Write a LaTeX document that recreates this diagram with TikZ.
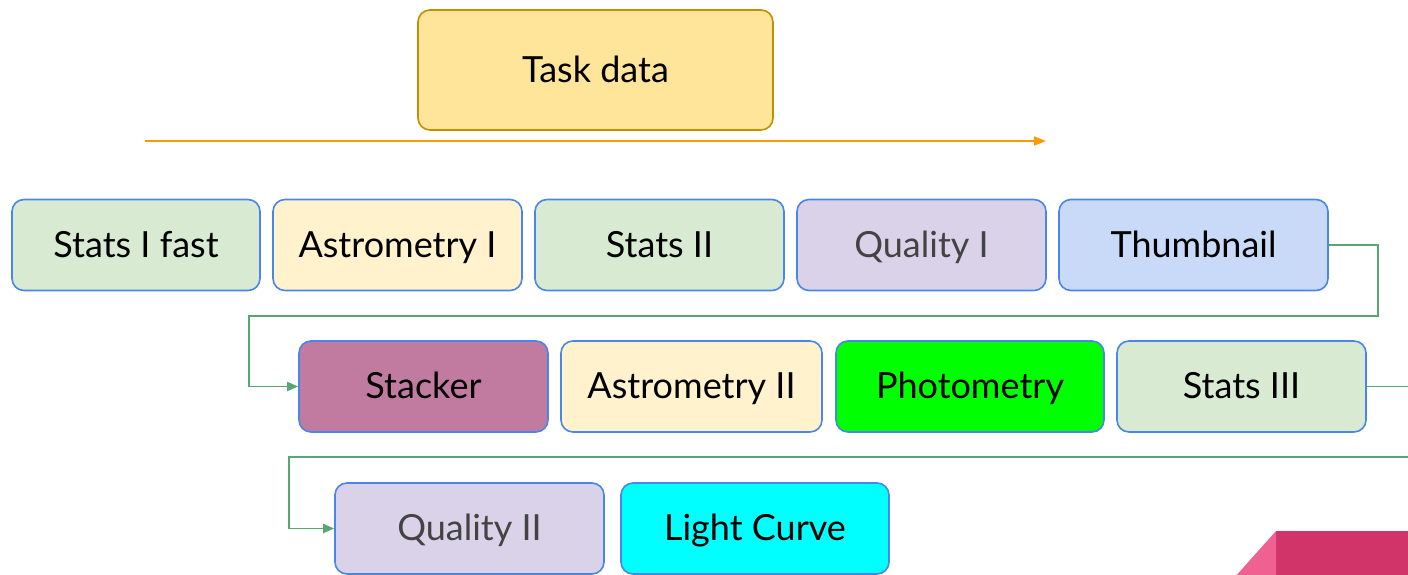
\documentclass[tikz,border=0pt]{standalone}
\usepackage{fontspec}
\setmainfont{Lato}
\usetikzlibrary{arrows.meta}
\definecolor{boxblue}{HTML}{4A86E8}
\definecolor{flowgreen}{RGB}{87,167,114}
\definecolor{taskfill}{HTML}{FFE599}
\definecolor{taskline}{HTML}{BF9000}
\definecolor{arrorange}{HTML}{FF9900}
\definecolor{statsfill}{HTML}{D9EAD3}
\definecolor{astrofill}{HTML}{FFF2CC}
\definecolor{qualfill}{HTML}{D9D2E9}
\definecolor{thumbfill}{HTML}{C9DAF8}
\definecolor{stackfill}{HTML}{C27BA0}
\definecolor{photofill}{HTML}{00FF00}
\definecolor{curvefill}{HTML}{00FFFF}
\definecolor{qualtext}{HTML}{434343}
\definecolor{pinkdark}{HTML}{D13468}
\definecolor{pinklight}{HTML}{EF6190}
\begin{document}
\begin{tikzpicture}[x=1pt,y=-1pt,
    stage/.style={draw=boxblue, line width=1.6pt, rounded corners=12pt,
      minimum height=91pt, inner sep=0pt, text height=24pt, text depth=0pt,
      font=\fontsize{36}{42}\selectfont},
    flow/.style={draw=flowgreen, line width=1.8pt},
    flowarrow/.style={flow, -{Triangle[length=11pt,width=9pt]}}]
    \useasboundingbox (0,0) rectangle (1408,574);
    \clip (0,0) rectangle (1408,574);
% task data and its arrow
\node[stage, draw=taskline, fill=taskfill, minimum width=355pt, minimum height=120pt] (task) at (595.5,70) {Task data};
\coordinate (arrstart) at (145,141);
\coordinate (arrend) at (1046,141);
\draw[draw=arrorange, line width=1.8pt, -{Triangle[length=12pt,width=9pt]}] (arrstart) -- (arrend);
% first row
\node[stage, fill=statsfill, minimum width=248pt] (statsfast) at (136,245) {Stats I fast};
\node[stage, fill=astrofill, minimum width=249pt] (astroone) at (397.5,245) {Astrometry I};
\node[stage, fill=statsfill, minimum width=249pt] (statstwo) at (659.5,245) {Stats II};
\node[stage, fill=qualfill, text=qualtext, minimum width=249pt] (qualone) at (921.5,245) {Quality I};
\node[stage, fill=thumbfill, minimum width=269pt] (thumb) at (1193.5,245) {Thumbnail};
% second row
\node[stage, fill=stackfill, minimum width=249pt] (stacker) at (423.5,386.5) {Stacker};
\node[stage, fill=astrofill, minimum width=261pt] (astrotwo) at (691.5,386.5) {Astrometry II};
\node[stage, fill=photofill, minimum width=268pt] (photo) at (970,386.5) {Photometry};
\node[stage, fill=statsfill, minimum width=249pt] (statsthree) at (1241.5,386.5) {Stats III};
% third row
\node[stage, fill=qualfill, text=qualtext, minimum width=269pt] (qualtwo) at (469.5,528.5) {Quality II};
\node[stage, fill=curvefill, minimum width=268pt] (lightcurve) at (755,528.5) {Light Curve};
% connectors
\draw[flowarrow] (thumb.east) -| (1378,316) -| (249,386.5) -- (stacker.west);
\coordinate (edgeout) at (1412,386.5);
\coordinate (edgein) at (1412,457);
\draw[flow] (statsthree.east) -- (edgeout);
\draw[flowarrow] (edgein) -| (289,528.5) -- (qualtwo.west);
% corner shapes
\fill[pinkdark] (1276,531) rectangle (1412,578);
\fill[pinklight] (1234,578) -- (1276,531) -- (1276,578) -- cycle;
\end{tikzpicture}
\end{document}
